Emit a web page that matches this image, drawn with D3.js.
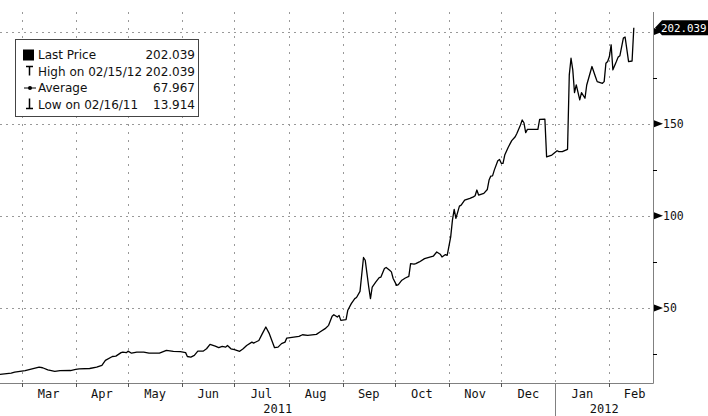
<!DOCTYPE html>
<html><head><meta charset="utf-8">
<script src="https://cdn.jsdelivr.net/npm/d3@7"></script>
<style>body{margin:0;background:#fff}svg{display:block}</style>
</head><body>
<svg id="c" width="708" height="416"></svg>
<script>
const dates = ["2011-02-16","2011-02-23","2011-02-25","2011-02-28","2011-03-03","2011-03-07","2011-03-11","2011-03-13","2011-03-16","2011-03-20","2011-03-23","2011-03-29","2011-04-01","2011-04-03","2011-04-09","2011-04-13","2011-04-16","2011-04-18","2011-04-22","2011-04-24","2011-04-27","2011-04-28","2011-04-30","2011-05-01","2011-05-03","2011-05-06","2011-05-10","2011-05-13","2011-05-19","2011-05-23","2011-05-27","2011-05-31","2011-06-03","2011-06-04","2011-06-06","2011-06-08","2011-06-10","2011-06-13","2011-06-15","2011-06-17","2011-06-20","2011-06-22","2011-06-24","2011-06-26","2011-06-27","2011-06-29","2011-07-01","2011-07-04","2011-07-06","2011-07-08","2011-07-11","2011-07-12","2011-07-15","2011-07-17","2011-07-19","2011-07-21","2011-07-24","2011-07-26","2011-07-28","2011-07-30","2011-07-31","2011-08-04","2011-08-07","2011-08-09","2011-08-12","2011-08-17","2011-08-19","2011-08-22","2011-08-24","2011-08-26","2011-08-27","2011-08-29","2011-08-30","2011-08-31","2011-09-03","2011-09-04","2011-09-06","2011-09-08","2011-09-09","2011-09-11","2011-09-13","2011-09-14","2011-09-15","2011-09-16","2011-09-17","2011-09-18","2011-09-20","2011-09-22","2011-09-23","2011-09-25","2011-09-26","2011-09-28","2011-09-29","2011-09-30","2011-10-02","2011-10-03","2011-10-05","2011-10-07","2011-10-09","2011-10-10","2011-10-12","2011-10-13","2011-10-15","2011-10-18","2011-10-20","2011-10-23","2011-10-25","2011-10-27","2011-10-28","2011-10-30","2011-10-31","2011-11-02","2011-11-03","2011-11-04","2011-11-05","2011-11-07","2011-11-08","2011-11-10","2011-11-13","2011-11-15","2011-11-16","2011-11-17","2011-11-18","2011-11-21","2011-11-23","2011-11-24","2011-11-25","2011-11-26","2011-11-27","2011-11-29","2011-11-30","2011-12-01","2011-12-02","2011-12-03","2011-12-05","2011-12-07","2011-12-09","2011-12-10","2011-12-12","2011-12-13","2011-12-14","2011-12-15","2011-12-16","2011-12-22","2011-12-23","2011-12-26","2011-12-27","2011-12-30","2012-01-02","2012-01-03","2012-01-05","2012-01-08","2012-01-09","2012-01-10","2012-01-11","2012-01-12","2012-01-13","2012-01-15","2012-01-16","2012-01-18","2012-01-19","2012-01-22","2012-01-24","2012-01-25","2012-01-28","2012-01-29","2012-01-30","2012-01-31","2012-02-01","2012-02-02","2012-02-03","2012-02-05","2012-02-06","2012-02-07","2012-02-09","2012-02-10","2012-02-12","2012-02-14","2012-02-15"];
const prices = [13.914,14.7,15.2,15.6,16.0,17.0,17.9,17.6,16.5,15.6,16.0,16.1,16.7,17.0,17.2,17.9,18.9,21.6,23.7,23.9,25.8,26.1,25.8,26.6,25.5,26.1,26.1,25.5,25.5,27.0,26.5,26.3,25.8,23.7,23.4,24.3,26.6,26.6,27.9,30.3,29.3,28.5,29.2,28.8,29.7,27.9,27.4,26.5,27.9,29.7,31.5,31.0,32.4,36.1,39.7,36.1,28.5,28.8,30.7,31.5,33.7,34.2,34.6,35.5,35.2,35.7,37.0,38.8,40.6,45.5,46.4,45.1,46.0,43.3,43.7,48.8,52.4,55.1,55.7,59.0,77.4,75.9,68.7,61.4,55.1,61.4,64.1,66.5,66.8,71.4,72.0,70.5,69.6,66.0,62.3,62.7,65.1,66.3,67.2,74.1,73.8,74.1,75.0,76.8,77.4,78.1,80.4,79.2,77.7,79.0,78.6,88.6,97.7,103.5,98.6,105.3,105.8,108.5,109.5,110.3,110.9,114.0,111.3,112.2,114.3,119.4,121.6,121.7,124.8,129.9,130.6,128.5,128.5,133.0,137.2,140.8,142.9,144.8,149.3,152.0,150.5,145.1,146.9,146.9,152.3,152.5,132.0,133.0,135.3,134.8,134.8,136.1,176.5,185.5,179.2,166.8,171.0,162.9,166.8,163.8,171.0,181.0,175.5,172.8,171.9,172.8,182.8,183.7,186.4,192.8,179.2,183.7,186.1,186.8,196.4,197.0,183.7,184.0,202.039];
const yMajorTicks = [50, 100, 150, 200];
const yLabelTicks = [50, 100, 150];
const yMinorTicks = [25, 75, 125, 175];
const lastPrice = 202.039;
const lastLabel = "202.039";
const legendLabels = ["Last Price", "High on 02/15/12", "Average", "Low on 02/16/11"];
const legendValues = ["202.039", "202.039", "67.967", "13.914"];
const years = ["2011", "2012"];

const parse = d3.timeParse("%Y-%m-%d");
const data = dates.map((d, i) => ({date: parse(d), v: prices[i]}));

const svg = d3.select("#c");
const plotTop = 12, plotBottom = 383, plotRight = 653;
const x = d3.scaleTime().domain([new Date(2011,1,16), new Date(2012,1,26)]).range([-1, 653]);
const y = d3.scaleLinear().domain([0, 200]).range([400.2, 31.5]);

const months = d3.timeMonth.range(new Date(2011,2,1), new Date(2012,1,2));

// grid
const grid = svg.append("g");
grid.selectAll(".hg").data(yMajorTicks).join("line")
  .attr("x1", 0).attr("x2", plotRight)
  .attr("y1", d => Math.round(y(d)) + 0.5).attr("y2", d => Math.round(y(d)) + 0.5)
  .attr("stroke", "#999").attr("stroke-width", 1).attr("stroke-dasharray", "2,4");
grid.selectAll(".vg").data(months).join("line")
  .attr("x1", d => Math.round(x(d)) + 0.5).attr("x2", d => Math.round(x(d)) + 0.5)
  .attr("y1", plotTop).attr("y2", plotBottom)
  .attr("stroke", "#999").attr("stroke-width", 1).attr("stroke-dasharray", "2,6");

// price line
svg.append("path").datum(data)
  .attr("fill", "none").attr("stroke", "#000").attr("stroke-width", 1.3)
  .attr("stroke-linejoin", "round")
  .attr("d", d3.line().x(d => x(d.date)).y(d => y(d.v)));

// axes lines
svg.append("line").attr("x1", 0).attr("x2", plotRight + 0.5).attr("y1", plotBottom + 0.5).attr("y2", plotBottom + 0.5)
  .attr("stroke", "#808080");
svg.append("line").attr("x1", plotRight + 0.5).attr("x2", plotRight + 0.5).attr("y1", plotTop).attr("y2", plotBottom + 0.5)
  .attr("stroke", "#808080");

// right axis
const ra = svg.append("g");
ra.selectAll(".mt").data(yMinorTicks).join("line")
  .attr("x1", plotRight).attr("x2", plotRight + 4)
  .attr("y1", d => Math.round(y(d)) + 0.5).attr("y2", d => Math.round(y(d)) + 0.5)
  .attr("stroke", "#000");
ra.selectAll(".tri").data(yMajorTicks).join("path")
  .attr("d", d => { const yy = y(d); return `M${plotRight+1},${yy-3.5}L${plotRight+10},${yy}L${plotRight+1},${yy+3.5}Z`; })
  .attr("fill", "#000");
ra.selectAll(".tl").data(yLabelTicks).join("text")
  .attr("x", plotRight + 10).attr("y", d => y(d)).attr("dy", "0.36em")
  .attr("font-family", "DejaVu Sans Mono").attr("font-size", 11.5).attr("fill", "#111")
  .text(d => d);

// last value box
const yl = y(lastPrice);
svg.append("path")
  .attr("d", `M${plotRight+2},${yl}L${plotRight+9},${yl-7.5}L708,${yl-7.5}L708,${yl+7.5}L${plotRight+9},${yl+7.5}Z`)
  .attr("fill", "#000");
svg.append("text").attr("x", 661).attr("y", yl).attr("dy", "0.36em")
  .attr("font-family", "DejaVu Sans Mono").attr("font-size", 10.8).attr("fill", "#fff")
  .text(lastLabel);

// bottom axis
const ba = svg.append("g");
ba.selectAll(".xt").data(months).join("line")
  .attr("x1", d => Math.round(x(d)) + 0.5).attr("x2", d => Math.round(x(d)) + 0.5)
  .attr("y1", plotBottom).attr("y2", plotBottom + 4)
  .attr("stroke", "#555");
ba.selectAll(".xl").data(months).join("text")
  .attr("x", d => (x(d) + x(d3.timeMonth.offset(d, 1))) / 2).attr("y", 398)
  .attr("text-anchor", "middle")
  .attr("font-family", "DejaVu Sans Mono").attr("font-size", 12).attr("fill", "#111")
  .text(d => d3.timeFormat("%b")(d));
const jan = new Date(2012,0,1);
svg.append("line").attr("x1", Math.round(x(jan)) + 0.5).attr("x2", Math.round(x(jan)) + 0.5)
  .attr("y1", plotBottom).attr("y2", 416).attr("stroke", "#808080");
const yearCenters = [(0 + x(jan)) / 2, (x(jan) + plotRight) / 2];
ba.selectAll(".yl").data(years).join("text")
  .attr("x", (d, i) => yearCenters[i]).attr("y", 413)
  .attr("text-anchor", "middle")
  .attr("font-family", "DejaVu Sans Mono").attr("font-size", 12).attr("fill", "#111")
  .text(d => d);

// legend
const lg = svg.append("g");
lg.append("rect").attr("x", 15.5).attr("y", 39.5).attr("width", 183).attr("height", 77)
  .attr("fill", "#fff").attr("stroke", "#444");
const rowY = [55, 71.5, 88, 104.5];
lg.selectAll(".ll").data(legendLabels).join("text")
  .attr("x", 38).attr("y", (d, i) => rowY[i]).attr("dy", "0.36em")
  .attr("font-family", "DejaVu Sans").attr("font-size", 12).attr("fill", "#111")
  .text(d => d);
lg.selectAll(".lv").data(legendValues).join("text")
  .attr("x", 195).attr("y", (d, i) => rowY[i]).attr("dy", "0.36em").attr("text-anchor", "end")
  .attr("font-family", "DejaVu Sans").attr("font-size", 12).attr("fill", "#111")
  .text(d => d);
// icons
lg.append("rect").attr("x", 23).attr("y", rowY[0] - 5.5).attr("width", 11).attr("height", 11).attr("fill", "#000");
lg.append("path").attr("d", `M26,${rowY[1]-5}L33,${rowY[1]-5}M29.5,${rowY[1]-5}L29.5,${rowY[1]+4}`)
  .attr("stroke", "#000").attr("stroke-width", 1.5).attr("fill", "none");
lg.append("path").attr("d", `M24,${rowY[2]}L36,${rowY[2]}`).attr("stroke", "#000").attr("stroke-width", 1);
lg.append("circle").attr("cx", 30).attr("cy", rowY[2]).attr("r", 2).attr("fill", "#000");
lg.append("path").attr("d", `M29.5,${rowY[3]-6}L29.5,${rowY[3]+4}M26,${rowY[3]+4}L33,${rowY[3]+4}`)
  .attr("stroke", "#000").attr("stroke-width", 1.5).attr("fill", "none");
</script>
</body></html>
